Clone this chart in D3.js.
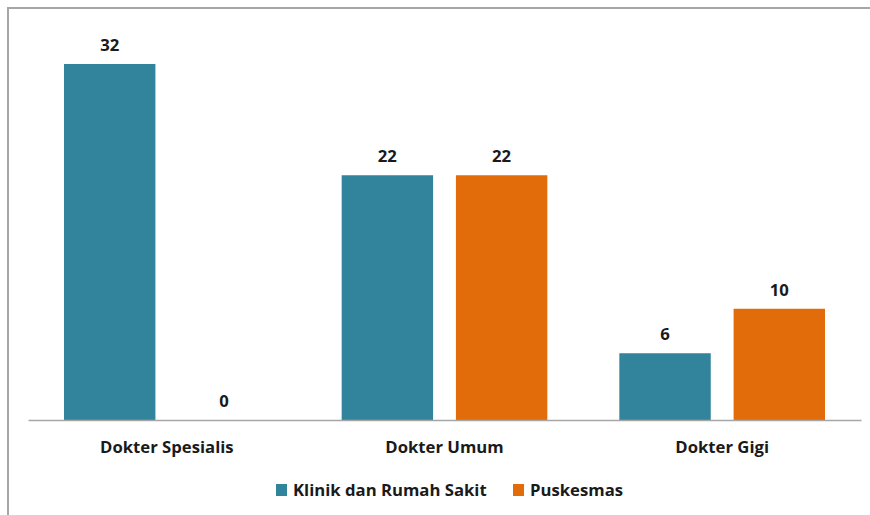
<!DOCTYPE html>
<html>
<head>
<meta charset="utf-8">
<script src="https://cdn.jsdelivr.net/npm/d3@7"></script>
<style>
  body { margin: 0; background: #fff; }
  text { font-family: "Open Sans", Lato, sans-serif; font-weight: bold; fill: #1a1a1a; }
</style>
</head>
<body>
<svg width="870" height="515"></svg>
<script>
var categories = ['Dokter Spesialis', 'Dokter Umum', 'Dokter Gigi'];
var seriesNames = ['Klinik dan Rumah Sakit', 'Puskesmas'];
var klinik = [32, 22, 6];
var puskesmas = [0, 22, 10];
var colors = ['#31849b', '#e36c0a'];

var svg = d3.select('svg');

// outer frame
svg.append('rect')
    .attr('x', 8).attr('y', 8)
    .attr('width', 870).attr('height', 520)
    .attr('fill', 'none')
    .attr('stroke', '#a6a6a6')
    .attr('stroke-width', 2);

var x0 = d3.scaleBand().domain(categories).range([28, 861]);
var x1 = d3.scaleBand().domain(seriesNames)
    .range([36, x0.bandwidth() - 36])
    .paddingInner(0.2);
var y = d3.scaleLinear().domain([0, 32]).range([420, 64]);

var rows = categories.map(function(c, i) {
    return { cat: c, vals: [klinik[i], puskesmas[i]] };
});

var groups = svg.selectAll('g.grp').data(rows).enter()
    .append('g')
    .attr('class', 'grp')
    .attr('transform', function(d) { return 'translate(' + x0(d.cat) + ',0)'; });

var bars = groups.selectAll('g.bar')
    .data(function(d) {
        return d.vals.map(function(v, j) { return { name: seriesNames[j], v: v, j: j }; });
    })
    .enter().append('g').attr('class', 'bar');

bars.append('rect')
    .attr('x', function(d) { return x1(d.name); })
    .attr('y', function(d) { return y(d.v); })
    .attr('width', x1.bandwidth())
    .attr('height', function(d) { return y(0) - y(d.v); })
    .attr('fill', function(d) { return colors[d.j]; });

bars.append('text')
    .attr('x', function(d) { return x1(d.name) + x1.bandwidth() / 2; })
    .attr('y', function(d) { return y(d.v) - 13; })
    .attr('text-anchor', 'middle')
    .attr('font-size', 16.7)
    .text(function(d) { return d.v; });

// x axis
var xAxis = svg.append('g')
    .attr('transform', 'translate(0,' + y(0) + ')')
    .call(d3.axisBottom(x0).tickSize(0).tickPadding(21));
xAxis.select('.domain').attr('stroke', '#a6a6a6').attr('stroke-width', 1.5);
xAxis.selectAll('text')
    .attr('font-size', 16.7)
    .attr('font-family', '"Open Sans", sans-serif')
    .attr('font-weight', 'bold')
    .attr('fill', '#1a1a1a');

// legend
var legendX = [276, 513];
var legend = svg.selectAll('g.leg').data(seriesNames).enter()
    .append('g')
    .attr('class', 'leg')
    .attr('transform', function(d, i) { return 'translate(' + legendX[i] + ',484)'; });
legend.append('rect')
    .attr('width', 11).attr('height', 12)
    .attr('fill', function(d, i) { return colors[i]; });
legend.append('text')
    .attr('x', 17).attr('y', 12)
    .attr('font-size', 16.7)
    .text(function(d) { return d; });
</script>
</body>
</html>
